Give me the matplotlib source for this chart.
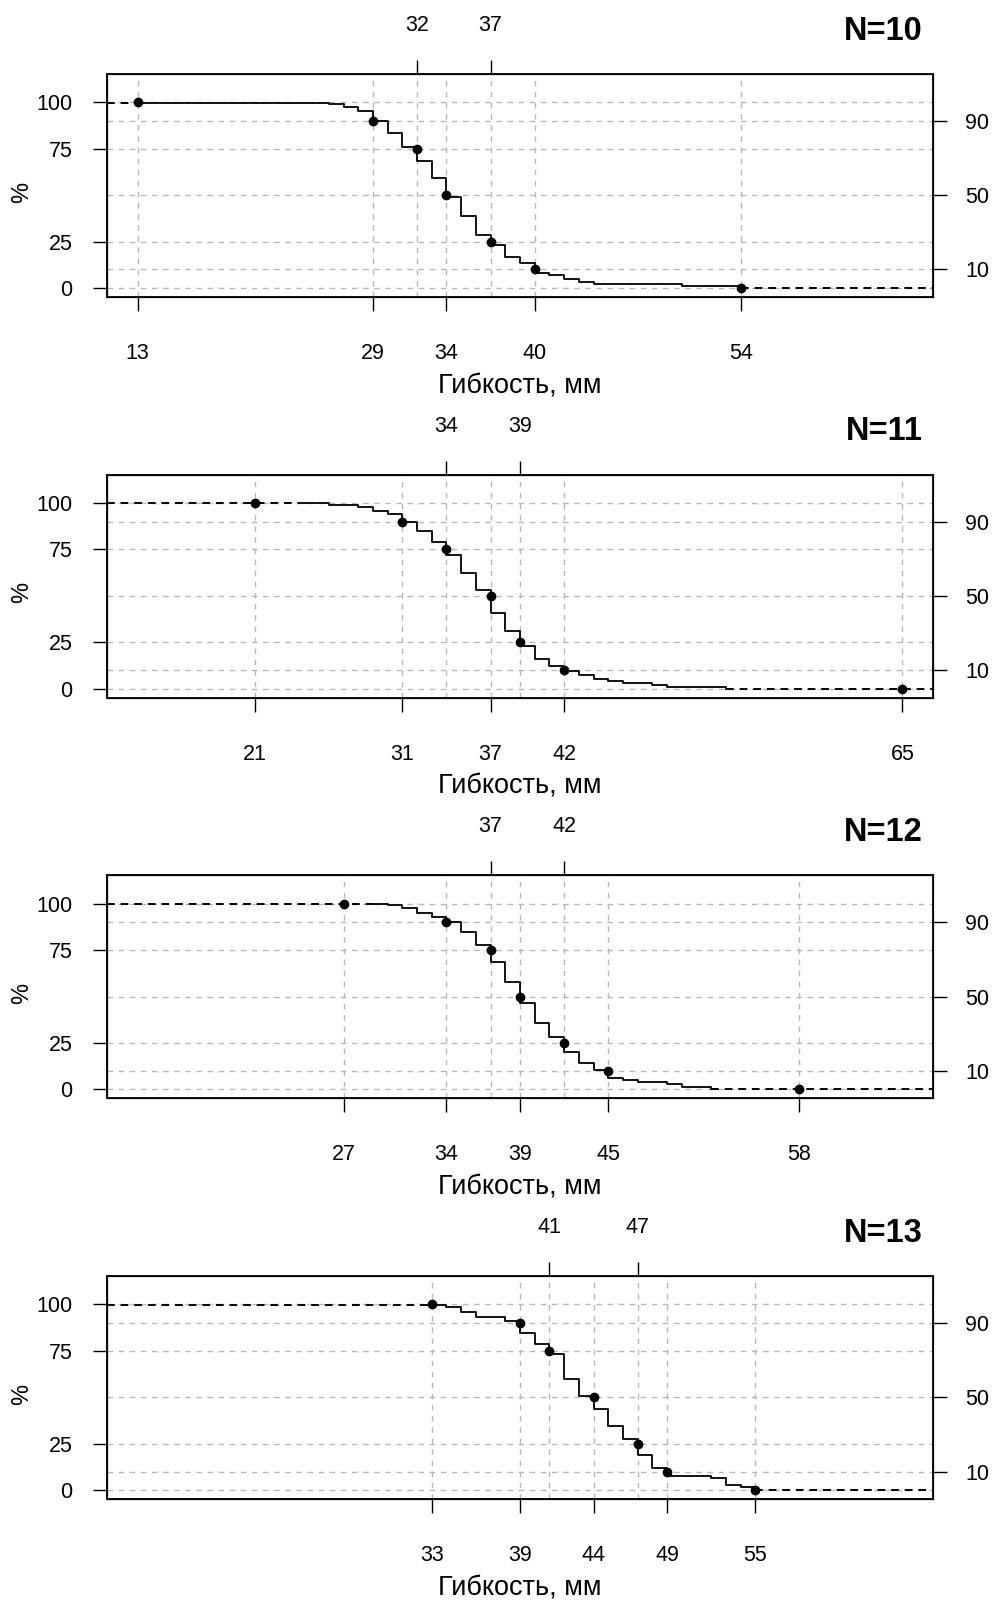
import numpy as np
import matplotlib.pyplot as plt

plt.rcParams['font.family'] = ['Liberation Sans', 'DejaVu Sans']

# подписи панелей
titles = ['N=10', 'N=11', 'N=12', 'N=13']
pct_levels = [100, 90, 75, 50, 25, 10, 0]
left_ticks = [0, 25, 75, 100]
right_ticks = [10, 50, 90]
xlabel = 'Гибкость, мм'

# квантили (мм) для уровней pct_levels
q10 = [13, 29, 32, 34, 37, 40, 54]
q11 = [21, 31, 34, 37, 39, 42, 65]
q12 = [27, 34, 37, 39, 42, 45, 58]
q13 = [33, 39, 41, 44, 47, 49, 55]

# ступенчатые кривые: начало интервала (мм) и значение (%)
sx10 = [13, 26, 27, 28, 29, 30, 31, 32, 33, 34, 35, 36, 37, 38, 39, 40, 41, 42, 43, 44, 50, 54]
sy10 = [99.8, 98.8, 97.3, 95.2, 90.0, 83.7, 75.8, 68.6, 59.1, 49.2, 39.0, 28.3, 23.3, 16.5, 13.6,
        8.2, 6.8, 4.8, 3.2, 2.1, 0.9, 0.0]

sx11 = [24, 26, 27, 28, 29, 30, 31, 32, 33, 34, 35, 36, 37, 38, 39, 40, 41, 42, 43, 44, 45, 46,
        48, 49, 53]
sy11 = [99.9, 99.0, 98.7, 97.7, 95.9, 94.3, 90.0, 84.8, 78.9, 72.2, 62.4, 52.9, 40.9, 31.0, 22.8,
        16.0, 12.3, 9.6, 7.3, 5.4, 4.0, 3.0, 2.2, 1.0, 0.0]

sx12 = [29, 30, 31, 32, 33, 34, 35, 36, 37, 38, 39, 40, 41, 42, 43, 44, 45, 46, 47, 49, 50, 52]
sy12 = [99.8, 99.1, 97.5, 95.2, 92.8, 90.0, 84.7, 77.7, 68.6, 57.9, 46.8, 36.0, 28.5, 20.2, 14.5,
        10.5, 6.3, 5.0, 3.8, 2.8, 1.6, 0.0]

sx13 = [33, 34, 35, 36, 38, 39, 40, 41, 42, 43, 44, 45, 46, 47, 48, 49, 52, 53, 54, 55]
sy13 = [99.6, 98.4, 95.7, 93.0, 91.0, 84.4, 78.5, 73.3, 59.7, 50.7, 43.7, 34.7, 27.4, 19.0, 12.2,
        7.7, 6.4, 3.0, 1.5, 0.0]

quants = [q10, q11, q12, q13]
steps = [(sx10, sy10), (sx11, sy11), (sx12, sy12), (sx13, sy13)]

xlim = (13 - 0.04 * 52, 65 + 0.04 * 52)
ylim = (-4.8, 115.2)
grid_kw = dict(color='#b8b8b8', lw=1.0, dashes=(4, 4), zorder=1)

tick_fs = 15.5
W, H = 996, 1600
fig = plt.figure(figsize=(W / 100, H / 100), dpi=100)

for i in range(4):
    top = 74 + 400.7 * i
    ax = fig.add_axes([107 / W, 1 - (top + 223) / H, 826 / W, 223 / H])
    q = quants[i]
    sx, sy = steps[i]

    ax.set_xlim(xlim)
    ax.set_ylim(ylim)

    for v in pct_levels:
        ax.axhline(v, **grid_kw)
    for v in q:
        ax.axvline(v, **grid_kw)

    # пунктирные продолжения
    ax.plot([xlim[0], sx[0]], [sy[0], sy[0]], color='black', lw=1.4, dashes=(4, 3), zorder=3)
    ax.plot([sx[-1], xlim[1]], [0, 0], color='black', lw=1.4, dashes=(4, 3), zorder=3)
    ax.step(sx, sy, where='post', color='black', lw=1.3, zorder=3)
    ax.plot(q, pct_levels, 'o', color='black', ms=6, zorder=4)

    for s in ax.spines.values():
        s.set_linewidth(1.3)

    ax.set_xticks([q[0], q[1], q[3], q[5], q[6]])
    ax.set_yticks(left_ticks)
    ax.tick_params(axis='x', length=10, width=1, labelsize=tick_fs, pad=23)
    ax.tick_params(axis='y', length=10, width=1, labelsize=tick_fs, pad=15)

    axt = ax.twiny()
    axt.set_xlim(xlim)
    axt.set_xticks([q[2], q[4]])
    axt.tick_params(axis='x', length=10, width=1, labelsize=tick_fs, pad=17.5)

    axr = ax.twinx()
    axr.set_ylim(ylim)
    axr.set_yticks(right_ticks)
    axr.tick_params(axis='y', length=10, width=1, labelsize=tick_fs, pad=13)

    ax.text(-85 / 826, 0.47, '%', rotation=90, ha='center', va='center',
            fontsize=17, transform=ax.transAxes)
    ax.text(0.5, -88 / 223, xlabel, ha='center', va='center', fontsize=19.5,
            transform=ax.transAxes)
    ax.text(0.988, 1 + 43 / 223, titles[i], ha='right', va='center', fontsize=23.5,
            fontweight='bold', transform=ax.transAxes)

fig.savefig('out.png', dpi=100)
